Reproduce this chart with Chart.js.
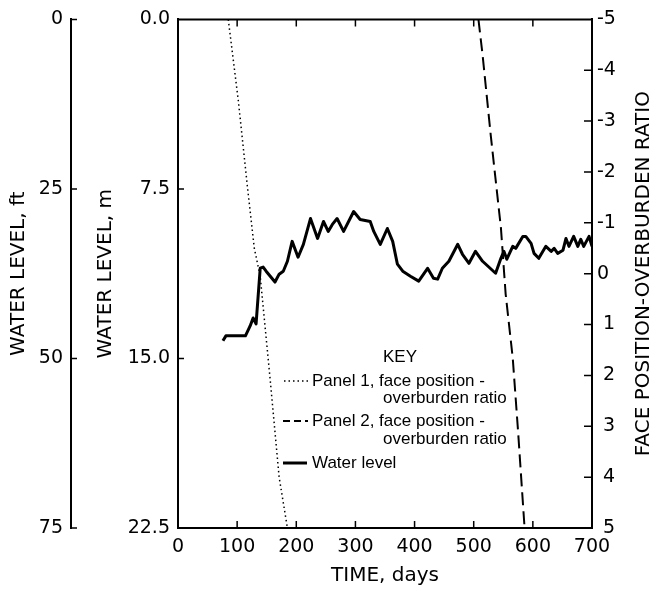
<!DOCTYPE html>
<html>
<head>
<meta charset="utf-8">
<script src="https://cdn.jsdelivr.net/npm/chart.js@4.4.1/dist/chart.umd.min.js"></script>
<style>
html, body { margin: 0; padding: 0; background: #fff; }
canvas { display: block; }
</style>
</head>
<body>
<canvas id="chart" width="655" height="590"></canvas>
<script>
// ==============================
// data
// ==============================
const waterDays = [76, 81, 114, 122, 127, 132, 139, 144, 149, 164,
    171, 178, 185, 193, 203, 212, 224, 236, 246, 254,
    261, 269, 280, 297, 308, 325, 331, 342, 354, 363,
    371, 380, 393, 407, 422, 432, 439, 447, 458, 473,
    481, 492, 503, 515, 537, 546, 551, 556, 566, 571,
    583, 588, 597, 602, 610, 622, 631, 636, 642, 651,
    656, 661, 669, 676, 681, 686, 695, 700];
const waterLevelM = [14.22, 14.0, 14.0, 13.56, 13.21, 13.47, 11.01, 10.96, 11.14, 11.62,
    11.27, 11.14, 10.70, 9.82, 10.52, 9.95, 8.81, 9.69, 8.94, 9.38,
    9.07, 8.81, 9.38, 8.50, 8.85, 8.94, 9.38, 9.95, 9.25, 9.82,
    10.83, 11.14, 11.36, 11.58, 11.01, 11.45, 11.49, 11.01, 10.70, 9.95,
    10.39, 10.79, 10.26, 10.70, 11.23, 10.57, 10.26, 10.61, 10.04, 10.13,
    9.60, 9.60, 9.91, 10.35, 10.57, 10.04, 10.26, 10.13, 10.35, 10.21,
    9.69, 10.04, 9.60, 10.04, 9.73, 10.04, 9.60, 10.04];

const panel1Days = [85, 102, 117, 129, 139, 156, 171, 185];
const panel1Ratio = [-5, -3.4, -1.75, -0.5, 0.05, 2.1, 4.0, 5];
const panel2Days = [508, 515, 529, 546, 554, 566, 575, 586];
const panel2Ratio = [-5, -4.3, -2.7, -0.9, 0.4, 1.66, 3.1, 5];

// tick values
const dayTicks = [0, 100, 200, 300, 400, 500, 600, 700];
const meterTicks = [0, 7.5, 15, 22.5];
const feetTicks = [0, 25, 50, 75];
const ratioTicks = [-5, -4, -3, -2, -1, 0, 1, 2, 3, 4, 5];

const pts = (xs, ys) => xs.map((x, i) => ({ x: x, y: ys[i] }));

Chart.defaults.font.family = "'DejaVu Sans', sans-serif";
Chart.defaults.color = "#000";

// ==============================
// inward ticks, top border, key, right title
// ==============================
const framePlugin = {
    id: "frame",
    afterDraw(chart) {
        const ctx = chart.ctx;
        const { left, right, top, bottom } = chart.chartArea;
        const x = chart.scales.x;
        const ym = chart.scales.ym;
        const yft = chart.scales.yft;
        const yr = chart.scales.yr;

        ctx.save();
        ctx.strokeStyle = "#000";
        ctx.lineWidth = 2;
        ctx.beginPath();
        ctx.moveTo(left - 1, top);
        ctx.lineTo(right + 1, top);
        ctx.stroke();

        ctx.lineWidth = 1.5;
        ctx.beginPath();
        dayTicks.slice(1, -1).forEach(d => {
            const px = x.getPixelForValue(d);
            ctx.moveTo(px, bottom);
            ctx.lineTo(px, bottom - 7);
            ctx.moveTo(px, top);
            ctx.lineTo(px, top + 7);
        });
        meterTicks.slice(1, -1).forEach(v => {
            const py = ym.getPixelForValue(v);
            ctx.moveTo(left, py);
            ctx.lineTo(left + 6, py);
        });
        feetTicks.forEach(v => {
            const py = yft.getPixelForValue(v);
            ctx.moveTo(yft.right, py);
            ctx.lineTo(yft.right + 6, py);
        });
        ratioTicks.slice(1, -1).forEach(v => {
            const py = yr.getPixelForValue(v);
            ctx.moveTo(right, py);
            ctx.lineTo(right - 8, py);
        });
        ctx.stroke();

        // right axis title, reads bottom to top
        ctx.fillStyle = "#000";
        ctx.font = "20px 'DejaVu Sans'";
        ctx.textAlign = "center";
        ctx.textBaseline = "middle";
        ctx.save();
        ctx.translate(644, (top + bottom) / 2);
        ctx.rotate(-Math.PI / 2);
        ctx.fillText("FACE POSITION-OVERBURDEN RATIO", 0, 0);
        ctx.restore();

        // key
        ctx.font = "17px 'Liberation Sans'";
        ctx.textAlign = "center";
        ctx.fillText("KEY", 400, 357);
        ctx.textAlign = "left";
        ctx.fillText("Panel 1, face position -", 312, 381);
        ctx.fillText("overburden ratio", 383, 398);
        ctx.fillText("Panel 2, face position -", 312, 421);
        ctx.fillText("overburden ratio", 383, 439);
        ctx.fillText("Water level", 312, 463);

        ctx.lineWidth = 1.5;
        ctx.setLineDash([1.5, 3]);
        ctx.beginPath();
        ctx.moveTo(284, 381);
        ctx.lineTo(308, 381);
        ctx.stroke();
        ctx.lineWidth = 2;
        ctx.setLineDash([7, 4]);
        ctx.beginPath();
        ctx.moveTo(283, 421);
        ctx.lineTo(308, 421);
        ctx.stroke();
        ctx.setLineDash([]);
        ctx.lineWidth = 3;
        ctx.beginPath();
        ctx.moveTo(283, 463);
        ctx.lineTo(307, 463);
        ctx.stroke();
        ctx.restore();
    }
};

const tickFont = { size: 19 };
const titleFont = { size: 20 };
const noGrid = { display: false, drawTicks: false };
const blackBorder = { display: true, color: "#000", width: 2 };

new Chart(document.getElementById("chart"), {
    type: "line",
    data: {
        datasets: [
            {
                label: "Water level",
                data: pts(waterDays, waterLevelM),
                yAxisID: "ym",
                borderColor: "#000",
                borderWidth: 3,
                borderJoinStyle: "round",
                pointRadius: 0,
                tension: 0
            },
            {
                label: "Panel 1, face position-overburden ratio",
                data: pts(panel1Days, panel1Ratio),
                yAxisID: "yr",
                borderColor: "#000",
                borderWidth: 1.5,
                borderDash: [1.5, 3],
                pointRadius: 0,
                tension: 0
            },
            {
                label: "Panel 2, face position-overburden ratio",
                data: pts(panel2Days, panel2Ratio),
                yAxisID: "yr",
                borderColor: "#000",
                borderWidth: 2,
                borderDash: [13, 6],
                pointRadius: 0,
                tension: 0
            }
        ]
    },
    options: {
        responsive: false,
        animation: false,
        layout: { padding: { top: 17, left: 0, right: 0, bottom: 0 } },
        plugins: { legend: { display: false }, tooltip: { enabled: false } },
        scales: {
            x: {
                type: "linear",
                position: "bottom",
                min: 0,
                max: 700,
                afterBuildTicks: s => { s.ticks = dayTicks.map(v => ({ value: v })); },
                afterFit: s => { s.height = 62; },
                ticks: { font: tickFont, padding: 8, maxRotation: 0, autoSkip: false },
                grid: noGrid,
                border: blackBorder,
                title: { display: true, text: "TIME, days", font: titleFont, padding: { top: 0, bottom: 2 } }
            },
            ym: {
                type: "linear",
                position: "left",
                weight: 0,
                reverse: true,
                min: 0,
                max: 22.5,
                afterBuildTicks: s => { s.ticks = meterTicks.map(v => ({ value: v })); },
                afterFit: s => { s.width = 107; },
                ticks: { font: tickFont, padding: 8, autoSkip: false, callback: v => v.toFixed(1) },
                grid: noGrid,
                border: blackBorder,
                title: { display: true, text: "WATER LEVEL, m", font: titleFont, padding: { top: 23, bottom: 23 } }
            },
            yft: {
                type: "linear",
                position: "left",
                weight: 1,
                reverse: true,
                min: 0,
                max: 75,
                afterBuildTicks: s => { s.ticks = feetTicks.map(v => ({ value: v })); },
                afterFit: s => { s.width = 71; },
                ticks: { font: tickFont, padding: 8, autoSkip: false },
                grid: noGrid,
                border: blackBorder,
                title: { display: true, text: "WATER LEVEL, ft", font: titleFont, padding: { top: 7, bottom: 7 } }
            },
            yr: {
                type: "linear",
                position: "right",
                reverse: true,
                min: -5,
                max: 5,
                afterBuildTicks: s => { s.ticks = ratioTicks.map(v => ({ value: v })); },
                afterFit: s => { s.width = 63; },
                ticks: { font: tickFont, padding: 5, autoSkip: false, callback: v => (v > 0 ? " " + v : String(v)) },
                grid: noGrid,
                border: blackBorder
            }
        }
    },
    plugins: [framePlugin]
});
</script>
</body>
</html>
